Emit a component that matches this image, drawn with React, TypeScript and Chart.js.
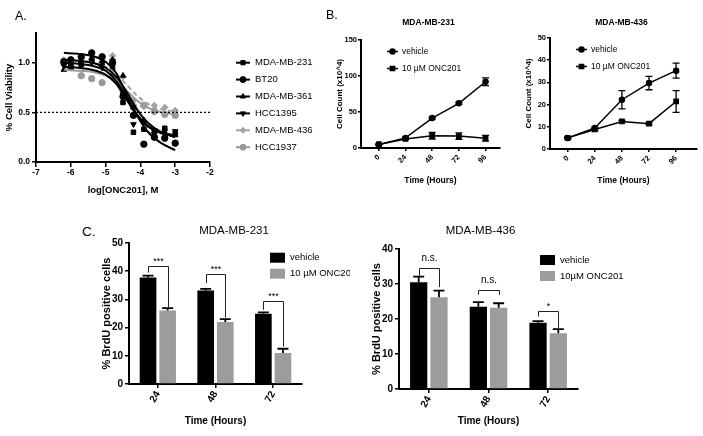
import React, { useEffect, useRef } from 'react';
import { Chart, registerables } from 'chart.js';
import { drawPoint } from 'chart.js/helpers';

Chart.register(...registerables);

const FONT = "'Liberation Sans', Arial, Helvetica, sans-serif";

// ---------------- Panel A data ----------------
const cellLines = ['MDA-MB-231', 'BT20', 'MDA-MB-361', 'HCC1395', 'MDA-MB-436', 'HCC1937'];
const logConc = [-6.2, -6.0, -5.7, -5.4, -5.1, -4.8, -4.5, -4.2, -3.9, -3.6, -3.3, -3.0];
const viabMB231 = [1.0, 0.97, 0.98, 1.02, 0.97, 0.95, 0.6, 0.3, 0.33, 0.3, 0.34, 0.29];
const viabBT20 = [1.01, 1.03, 1.06, 1.1, 1.06, 1.0, 0.66, 0.47, 0.18, 0.25, 0.24, 0.19];
const viabMB361 = [0.93, 0.95, 1.02, 1.05, 1.02, 1.03, 0.87, 0.55, 0.42, 0.31, 0.3, 0.27];
const viabHCC1395 = [0.97, 0.96, 0.99, 1.0, 0.95, 1.02, 0.68, 0.38, 0.4, 0.32, 0.31, 0.31];
const viabMB436 = [1.03, 1.02, 1.04, 1.03, 1.0, 1.07, 0.86, 0.62, 0.56, 0.57, 0.55, 0.52];
const viabHCC1937 = [1.0, 0.95, 0.87, 0.84, 0.8, 0.86, 0.72, 0.56, 0.57, 0.51, 0.48, 0.47];
const fitLogConc = [-6.2, -5.8, -5.4, -5.0, -4.7, -4.4, -4.1, -3.8, -3.4, -3.0];
const fitMB231 = [1.0, 0.99, 0.97, 0.92, 0.82, 0.65, 0.48, 0.37, 0.3, 0.27];
const fitBT20 = [1.1, 1.09, 1.07, 1.01, 0.9, 0.68, 0.47, 0.31, 0.19, 0.12];
const fitMB361 = [1.03, 1.02, 1.0, 0.95, 0.86, 0.71, 0.53, 0.4, 0.3, 0.25];
const fitHCC1395 = [0.96, 0.95, 0.93, 0.88, 0.79, 0.63, 0.47, 0.36, 0.29, 0.26];
const fitMB436 = [1.03, 1.02, 1.0, 0.96, 0.89, 0.78, 0.67, 0.59, 0.53, 0.51];
const fitHCC1937 = [0.93, 0.92, 0.91, 0.87, 0.81, 0.72, 0.62, 0.55, 0.5, 0.48];
const cutoffViability = 0.5;
const cutoffRange = [-7, -2];

// ---------------- Panel B data ----------------
const hoursB = [0, 24, 48, 72, 96];
const treatmentsB = ['vehicle', '10 µM ONC201'];
const count231Vehicle = [5, 14, 41.5, 62, 92];
const count231VehicleSem = [0.5, 1, 1, 1.5, 5.5];
const count231Onc = [5, 12.5, 17, 16.5, 13.5];
const count231OncSem = [0.5, 1, 4.5, 4.5, 4];
const count436Vehicle = [5, 9.5, 22.2, 29.7, 35.3];
const count436VehicleSem = [0.3, 0.5, 4.1, 3, 3.4];
const count436Onc = [5, 8.8, 12.4, 11.4, 21.4];
const count436OncSem = [0.3, 0.5, 0.5, 0.5, 4.9];

// ---------------- Panel C data ----------------
const hoursC = ['24', '48', '72'];
const brdu231Vehicle = [37.8, 33.2, 24.9];
const brdu231VehicleSem = [0.6, 0.5, 0.5];
const brdu231Onc = [26.1, 22.0, 11.0];
const brdu231OncSem = [0.8, 1.0, 1.5];
const sig231 = ['***', '***', '***'];
const bracket231Top = [42.0, 39.0, 29.5];
const bracket231Left = [39.5, 35.8, 26.3];
const bracket231Right = [27.3, 23.5, 13.3];
const brdu436Vehicle = [30.5, 23.5, 18.9];
const brdu436VehicleSem = [1.6, 1.3, 0.5];
const brdu436Onc = [26.2, 23.2, 15.9];
const brdu436OncSem = [1.9, 1.3, 1.2];
const sig436 = ['n.s.', 'n.s.', '*'];
const bracket436Top = [34.5, 28.3, 22.3];
const bracket436Left = [32.3, 26.9, 20.7];
const bracket436Right = [29.1, 26.9, 17.5];

// ---------------- helpers ----------------
function baseAxis(
  fontSize: number, tickLen: number, pad: number, titleText: string, titleSize: number,
  fitProp: 'width' | 'height', fitSize: number, extraTicks: any = {}, extra: any = {}
) {
  return {
    border: { display: true, color: '#000', width: 2 },
    grid: { display: true, drawOnChartArea: false, drawTicks: true, tickLength: tickLen, color: '#000', lineWidth: 1.5 },
    ticks: { color: '#000', font: { family: FONT, size: fontSize, weight: 'bold' }, padding: pad, ...extraTicks },
    title: {
      display: true, text: titleText, color: '#000',
      font: { family: FONT, size: titleSize, weight: 'bold' }, padding: { top: 4, bottom: 4 },
    },
    afterFit: (s: any) => { s[fitProp] = fitSize; },
    ...extra,
  };
}

function baseOptions(padTop: number, padRight: number) {
  return {
    responsive: false,
    maintainAspectRatio: false,
    animation: false,
    devicePixelRatio: 1,
    events: [],
    layout: { padding: { top: padTop, right: padRight, left: 0, bottom: 0 } },
    plugins: { legend: { display: false }, tooltip: { enabled: false }, title: { display: false } },
  };
}

function text(ctx: CanvasRenderingContext2D, s: string, x: number, y: number, size: number, bold: boolean,
  align: CanvasTextAlign = 'left', baseline: CanvasTextBaseline = 'middle') {
  ctx.save();
  ctx.fillStyle = '#000';
  ctx.font = `${bold ? 'bold ' : ''}${size}px ${FONT}`;
  ctx.textAlign = align;
  ctx.textBaseline = baseline;
  ctx.fillText(s, x, y);
  ctx.restore();
}

function errorBars(id: string, sets: { index: number; values: number[]; errs: number[] }[], cap: number, lw: number, upOnly: boolean) {
  return {
    id,
    afterDatasetsDraw(chart: any) {
      const ctx = chart.ctx as CanvasRenderingContext2D;
      const ys = chart.scales.y;
      ctx.save();
      ctx.strokeStyle = '#000';
      ctx.lineWidth = lw;
      sets.forEach((s) => {
        const meta = chart.getDatasetMeta(s.index);
        meta.data.forEach((el: any, i: number) => {
          const x = el.x;
          const yHi = ys.getPixelForValue(s.values[i] + s.errs[i]);
          const yLo = ys.getPixelForValue(upOnly ? s.values[i] : s.values[i] - s.errs[i]);
          ctx.beginPath();
          ctx.moveTo(x, yLo); ctx.lineTo(x, yHi);
          ctx.moveTo(x - cap, yHi); ctx.lineTo(x + cap, yHi);
          if (!upOnly) { ctx.moveTo(x - cap, yLo); ctx.lineTo(x + cap, yLo); }
          ctx.stroke();
        });
      });
      ctx.restore();
    },
  };
}

type Box = { left: number; top: number; width: number; height: number };

function ChartBox({ box, make }: { box: Box; make: () => any }) {
  const ref = useRef<HTMLCanvasElement>(null);
  useEffect(() => {
    const chart = new Chart(ref.current as HTMLCanvasElement, make());
    return () => chart.destroy();
  }, []);
  return (
    <canvas
      ref={ref}
      width={box.width}
      height={box.height}
      style={{ position: 'absolute', left: box.left, top: box.top, width: box.width, height: box.height }}
    />
  );
}

// ---------------- Panel A ----------------
const aSeries = [
  { name: cellLines[0], pts: viabMB231, fit: fitMB231, color: '#000', style: 'rect', rot: 0, dash: [] as number[] },
  { name: cellLines[1], pts: viabBT20, fit: fitBT20, color: '#000', style: 'circle', rot: 0, dash: [] as number[] },
  { name: cellLines[2], pts: viabMB361, fit: fitMB361, color: '#000', style: 'triangle', rot: 0, dash: [] as number[] },
  { name: cellLines[3], pts: viabHCC1395, fit: fitHCC1395, color: '#000', style: 'triangle', rot: 180, dash: [] as number[] },
  { name: cellLines[4], pts: viabMB436, fit: fitMB436, color: '#a3a3a3', style: 'rectRot', rot: 0, dash: [5, 3] },
  { name: cellLines[5], pts: viabHCC1937, fit: fitHCC1937, color: '#999999', style: 'circle', rot: 0, dash: [] as number[] },
];

function makeA() {
  const legendA = {
    id: 'legendA',
    afterDraw(chart: any) {
      const ctx = chart.ctx as CanvasRenderingContext2D;
      aSeries.forEach((s, i) => {
        const y = 62.7 + i * 16.9;
        ctx.save();
        ctx.strokeStyle = s.color;
        ctx.fillStyle = s.color;
        ctx.lineWidth = 2;
        ctx.beginPath(); ctx.moveTo(236, y); ctx.lineTo(250, y); ctx.stroke();
        ctx.lineWidth = 1;
        drawPoint(ctx, { pointStyle: s.style as any, rotation: s.rot, radius: 3, borderWidth: 1 }, 243, y);
        ctx.restore();
        text(ctx, s.name, 255, y, 9.5, false);
      });
    },
  };
  return {
    type: 'scatter',
    data: {
      datasets: [
        {
          type: 'line', data: cutoffRange.map((x) => ({ x, y: cutoffViability })),
          borderColor: '#000', borderWidth: 1.3, borderDash: [2, 2], pointRadius: 0,
        },
        ...aSeries.map((s) => ({
          type: 'line', data: fitLogConc.map((x, i) => ({ x, y: s.fit[i] })),
          borderColor: s.color, borderWidth: 2, borderDash: s.dash, pointRadius: 0,
          cubicInterpolationMode: 'monotone',
        })),
        ...aSeries.map((s) => ({
          type: 'scatter', data: logConc.map((x, i) => ({ x, y: s.pts[i] })),
          backgroundColor: s.color, borderColor: s.color, pointStyle: s.style, rotation: s.rot,
          pointRadius: 3.2, borderWidth: 1, showLine: false,
        })),
      ],
    },
    options: {
      ...baseOptions(33, 120),
      scales: {
        x: {
          type: 'linear', min: -7, max: -2,
          ...baseAxis(8.5, 5, 1, 'log[ONC201], M', 9.5, 'height', 38, { stepSize: 1, callback: (v: number) => String(v) }),
        },
        y: {
          type: 'linear', min: 0, max: 1.3,
          ...baseAxis(8.5, 4, 2, '% Cell Viability', 9.5, 'width', 36, {
            stepSize: 0.5, includeBounds: false, callback: (v: number) => v.toFixed(1),
          }),
        },
      },
    },
    plugins: [legendA],
  };
}

// ---------------- Panel B ----------------
function makeB(title: string, veh: number[], vehSem: number[], onc: number[], oncSem: number[],
  yMax: number, yStep: number, xMin: number, xMax: number, padTop: number, padRight: number, xH: number, yW: number) {
  const deco = {
    id: 'decoB',
    afterDraw(chart: any) {
      const ctx = chart.ctx as CanvasRenderingContext2D;
      const ca = chart.chartArea;
      text(ctx, title, (ca.left + ca.right) / 2 - 2, 23, 8.5, true, 'center');
      const styles = ['circle', 'rect'];
      treatmentsB.forEach((t, i) => {
        const y = ca.top + 11.5 + i * 17;
        const x0 = ca.left + 26;
        ctx.save();
        ctx.strokeStyle = '#000'; ctx.fillStyle = '#000'; ctx.lineWidth = 1.5;
        ctx.beginPath(); ctx.moveTo(x0, y); ctx.lineTo(x0 + 11, y); ctx.stroke();
        drawPoint(ctx, { pointStyle: styles[i] as any, rotation: 0, radius: i === 0 ? 2.5 : 3, borderWidth: 1 }, x0 + 5.5, y);
        ctx.restore();
        text(ctx, t, x0 + 15, y, 8.5, false);
      });
    },
  };
  return {
    type: 'line',
    data: {
      datasets: [
        {
          data: hoursB.map((h, i) => ({ x: h, y: veh[i] })), borderColor: '#000', backgroundColor: '#000',
          borderWidth: 1.5, pointStyle: 'circle', pointRadius: 2.5, tension: 0,
        },
        {
          data: hoursB.map((h, i) => ({ x: h, y: onc[i] })), borderColor: '#000', backgroundColor: '#000',
          borderWidth: 1.5, pointStyle: 'rect', pointRadius: 3, tension: 0,
        },
      ],
    },
    options: {
      ...baseOptions(padTop, padRight),
      scales: {
        x: {
          type: 'linear', min: xMin, max: xMax,
          afterBuildTicks: (s: any) => { s.ticks = hoursB.map((v) => ({ value: v })); },
          ...baseAxis(7.5, 3, 2, 'Time (Hours)', 8.5, 'height', xH, { minRotation: 45, maxRotation: 45, autoSkip: false }),
        },
        y: {
          type: 'linear', min: 0, max: yMax,
          ...baseAxis(7.5, 3, 1, 'Cell Count (x10^4)', 8, 'width', yW, { stepSize: yStep }),
        },
      },
    },
    plugins: [
      errorBars('ebB', [
        { index: 0, values: veh, errs: vehSem },
        { index: 1, values: onc, errs: oncSem },
      ], 3.5, 1.3, false),
      deco,
    ],
  };
}

// ---------------- Panel C ----------------
function makeC(title: string, titleX: number, oncLabel: string, veh: number[], vehSem: number[], onc: number[], oncSem: number[],
  sig: string[], bTop: number[], bLeft: number[], bRight: number[], yMax: number,
  padTop: number, padRight: number, xH: number, yW: number) {
  const deco = {
    id: 'decoC',
    afterDraw(chart: any) {
      const ctx = chart.ctx as CanvasRenderingContext2D;
      const ca = chart.chartArea;
      const ys = chart.scales.y;
      text(ctx, title, ca.left + titleX, 30.5, 11.5, false, 'center');
      // legend
      const labels = ['vehicle', oncLabel];
      const colors = ['#000', '#9c9c9c'];
      labels.forEach((l, i) => {
        const y = ca.top + (yMax === 50 ? 14.7 : 11) + i * 16;
        ctx.fillStyle = colors[i];
        ctx.fillRect(ca.left + 141, y - 5, 15, 10);
        text(ctx, l, ca.left + 161, y, 9.5, false);
      });
      // brackets
      const m0 = chart.getDatasetMeta(0);
      const m1 = chart.getDatasetMeta(1);
      ctx.save();
      ctx.strokeStyle = '#222';
      ctx.lineWidth = 1;
      hoursC.forEach((_, i) => {
        const xl = Math.round(m0.data[i].x) + 0.5;
        const xr = Math.round(m1.data[i].x) + 0.5;
        const yt = Math.round(ys.getPixelForValue(bTop[i])) + 0.5;
        ctx.beginPath();
        ctx.moveTo(xl, ys.getPixelForValue(bLeft[i]));
        ctx.lineTo(xl, yt);
        ctx.lineTo(xr, yt);
        ctx.lineTo(xr, ys.getPixelForValue(bRight[i]));
        ctx.stroke();
        const isNs = sig[i].startsWith('n');
        text(ctx, sig[i], (xl + xr) / 2, yt - (isNs ? 8 : 3), isNs ? 10 : 9, false, 'center', 'alphabetic');
      });
      ctx.restore();
    },
  };
  return {
    type: 'bar',
    data: {
      labels: hoursC,
      datasets: [
        { data: veh, backgroundColor: '#000', borderWidth: 0, barPercentage: 0.85, categoryPercentage: 0.68 },
        { data: onc, backgroundColor: '#9c9c9c', borderWidth: 0, barPercentage: 0.85, categoryPercentage: 0.68 },
      ],
    },
    options: {
      ...baseOptions(padTop, padRight),
      scales: {
        x: {
          type: 'category',
          ...baseAxis(10, 4, 1, 'Time (Hours)', 10, 'height', xH, { minRotation: 60, maxRotation: 60, autoSkip: false }),
          grid: { display: true, drawOnChartArea: false, drawTicks: true, tickLength: 4, color: '#000', lineWidth: 1.5, offset: false },
        },
        y: {
          type: 'linear', min: 0, max: yMax,
          ...baseAxis(10, 4, 2, '% BrdU positive cells', 11, 'width', yW, { stepSize: 10 }),
        },
      },
    },
    plugins: [
      errorBars('ebC', [
        { index: 0, values: veh, errs: vehSem },
        { index: 1, values: onc, errs: oncSem },
      ], 5.5, 1.8, true),
      deco,
    ],
  };
}

const panelLabel = (s: string, left: number, top: number, size: number) => (
  <div style={{ position: 'absolute', left, top, fontFamily: FONT, fontSize: size, lineHeight: 1, color: '#000' }}>{s}</div>
);

export default function App() {
  return (
    <div style={{ position: 'fixed', left: 0, top: 0, width: 703, height: 436, background: '#fff', overflow: 'hidden' }}>
      <ChartBox box={{ left: 0, top: 0, width: 330, height: 200 }} make={makeA} />
      <ChartBox
        box={{ left: 331, top: 0, width: 185, height: 190 }}
        make={() => makeB('MDA-MB-231', count231Vehicle, count231VehicleSem, count231Onc, count231OncSem,
          150, 50, -16, 109, 40, 16, 42, 30)}
      />
      <ChartBox
        box={{ left: 520, top: 0, width: 183, height: 190 }}
        make={() => makeB('MDA-MB-436', count436Vehicle, count436VehicleSem, count436Onc, count436OncSem,
          50, 10, -15.7, 114.5, 38, 6, 41, 30)}
      />
      <ChartBox
        box={{ left: 96, top: 200, width: 254, height: 231 }}
        make={() => makeC('MDA-MB-231', 105, '10 µM ONC201', brdu231Vehicle, brdu231VehicleSem, brdu231Onc, brdu231OncSem,
          sig231, bracket231Top, bracket231Left, bracket231Right, 50, 43, 48, 47, 33)}
      />
      <ChartBox
        box={{ left: 366, top: 200, width: 337, height: 231 }}
        make={() => makeC('MDA-MB-436', 81.5, '10µM ONC201', brdu436Vehicle, brdu436VehicleSem, brdu436Onc, brdu436OncSem,
          sig436, bracket436Top, bracket436Left, bracket436Right, 40, 49, 125, 42, 33)}
      />
      {panelLabel('A.', 15, 10.3, 12.5)}
      {panelLabel('B.', 326, 8.5, 12.5)}
      {panelLabel('C.', 82, 225, 13.5)}
    </div>
  );
}
